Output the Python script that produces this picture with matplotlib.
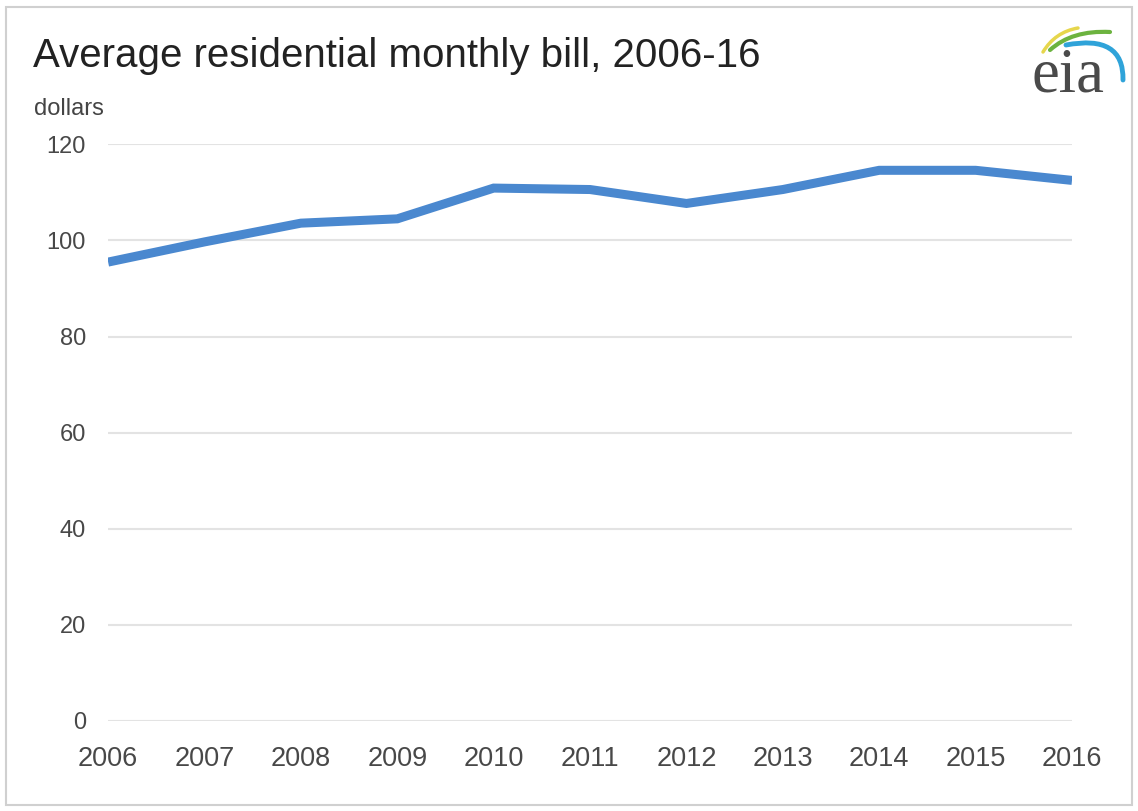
import numpy as np
import matplotlib.pyplot as plt
from matplotlib.patches import Rectangle, PathPatch
from matplotlib.path import Path

#~~~~~~~~~~~~~~~~~~~~~~~~~ data ~~~~~~~~~~~~~~~~~~~~~~~~~
years = [2006, 2007, 2008, 2009, 2010, 2011, 2012, 2013, 2014, 2015, 2016]
bill  = [95.5, 99.7, 103.6, 104.5, 110.9, 110.6, 107.7, 110.6, 114.6, 114.6, 112.5]
yticks = [0, 20, 40, 60, 80, 100, 120]

plt.rcParams['font.family'] = ['Liberation Sans', 'DejaVu Sans']

W, H = 1138, 811
fig = plt.figure(figsize=(W / 100, H / 100), dpi=100)
ax = fig.add_axes([0.095, 0.111, 0.847, 0.711])

ax.plot(years, bill, color='#4a88cf', lw=6.5, solid_capstyle='butt', solid_joinstyle='miter')
ax.set_xlim(2006, 2016)
ax.set_ylim(0, 120)
ax.set_xticks(years)
ax.set_yticks(yticks)
ax.grid(axis='y', color='#e3e3e3', lw=1.5)
ax.set_axisbelow(True)
for s in ax.spines.values():
    s.set_visible(False)
ax.tick_params(length=0, labelcolor='#484848')
ax.tick_params(axis='y', pad=16, labelsize=17)
ax.tick_params(axis='x', pad=18, labelsize=19.5)

#~~~~~~~~~~~~~~~~~~~~~~~~~ titles ~~~~~~~~~~~~~~~~~~~~~~~~~
fig.text(0.029, 1 - 67 / H, 'Average residential monthly bill, 2006-16', fontsize=29,
         color='#222222', ha='left', va='baseline')
fig.text(0.030, 1 - 115 / H, 'dollars', fontsize=17, color='#444444', ha='left', va='baseline')

#~~~~~~~~~~~~~~~~~~~~~~~~~ eia logo ~~~~~~~~~~~~~~~~~~~~~~~~~
fig.text(1032 / W, 1 - 92 / H, 'eia', fontsize=45, family='Liberation Serif', color='#4a4a4a',
         ha='left', va='baseline')

def swoosh(p0, c, p1, color, lw):
    pts = [(x / W, 1 - y / H) for x, y in (p0, c, p1)]
    path = Path(pts, [Path.MOVETO, Path.CURVE3, Path.CURVE3])
    fig.add_artist(PathPatch(path, fill=False, ec=color, lw=lw, capstyle='round',
                             transform=fig.transFigure))

swoosh((1043, 52), (1055, 32), (1078, 28), '#e6d64c', 2.5)
swoosh((1050, 50), (1072, 30), (1110, 32), '#6cb33f', 3)
swoosh((1066, 45), (1124, 34), (1123, 80), '#2fa3d9', 3.5)

# light frame around the picture
fig.add_artist(Rectangle((0.005, 0.007), 0.99, 0.984, fill=False, ec='#d0d0d0', lw=1.5,
                         transform=fig.transFigure))

plt.savefig('out.png', dpi=100)
